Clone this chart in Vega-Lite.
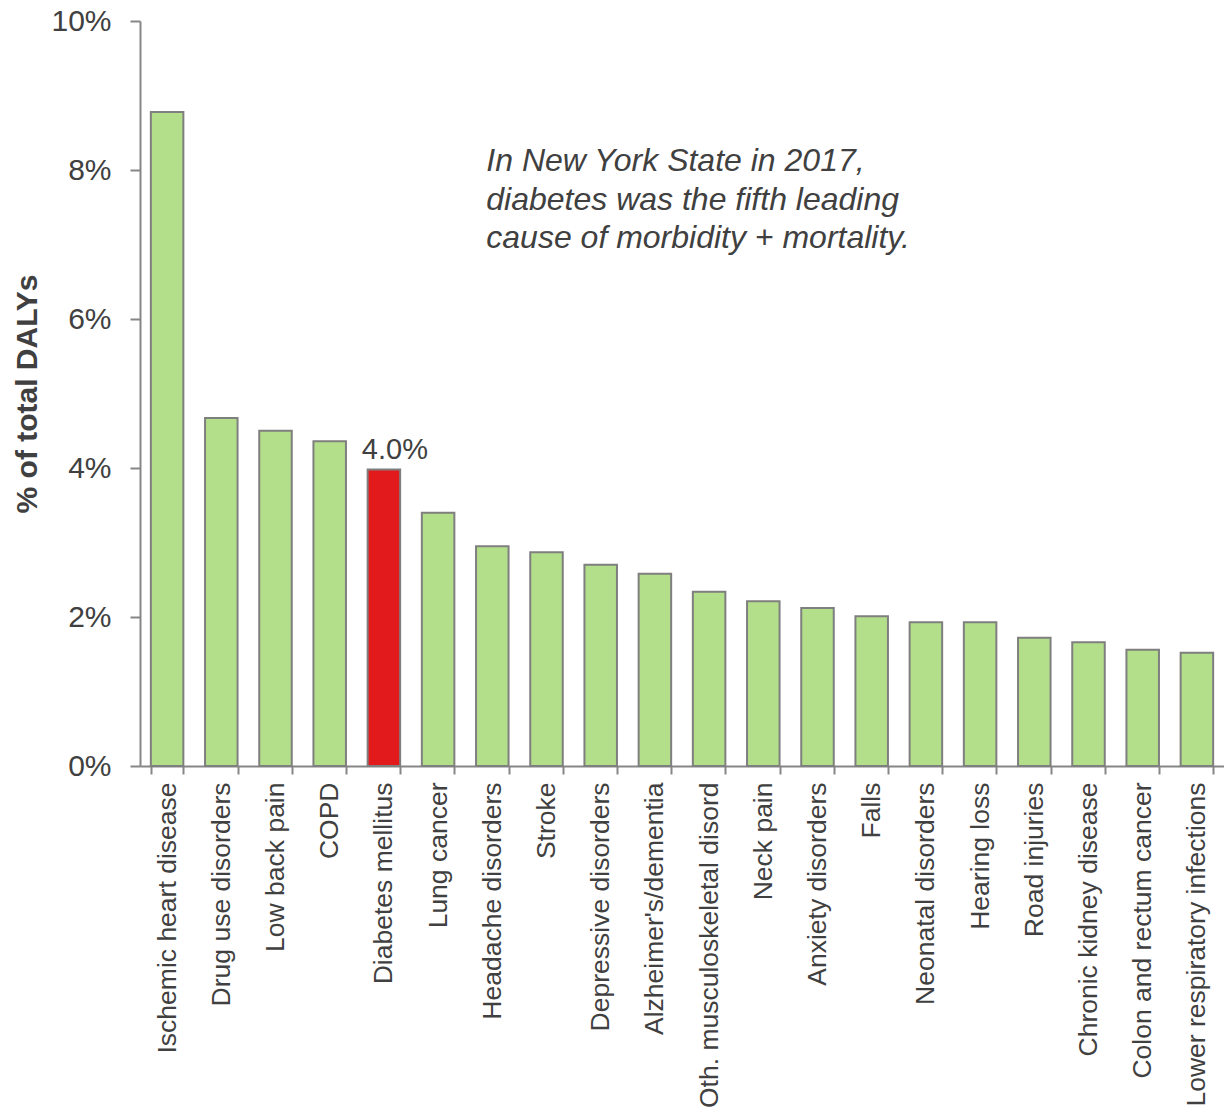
{
  "$schema": "https://vega.github.io/schema/vega-lite/v6.json",
  "autosize": "none",
  "padding": {"left": 140, "top": 21, "right": 0, "bottom": 345},
  "width": 1084,
  "height": 745,
  "background": "white",
  "config": {"view": {"stroke": null}, "font": "Liberation Sans"},
  "datasets": {
    "bars": [
      {"cause": "Ischemic heart disease", "pct": 8.78, "hl": "no"},
      {"cause": "Drug use disorders", "pct": 4.67, "hl": "no"},
      {"cause": "Low back pain", "pct": 4.50, "hl": "no"},
      {"cause": "COPD", "pct": 4.36, "hl": "no"},
      {"cause": "Diabetes mellitus", "pct": 3.98, "hl": "yes", "label": "4.0%"},
      {"cause": "Lung cancer", "pct": 3.40, "hl": "no"},
      {"cause": "Headache disorders", "pct": 2.95, "hl": "no"},
      {"cause": "Stroke", "pct": 2.87, "hl": "no"},
      {"cause": "Depressive disorders", "pct": 2.70, "hl": "no"},
      {"cause": "Alzheimer's/dementia", "pct": 2.58, "hl": "no"},
      {"cause": "Oth. musculoskeletal disord", "pct": 2.34, "hl": "no"},
      {"cause": "Neck pain", "pct": 2.21, "hl": "no"},
      {"cause": "Anxiety disorders", "pct": 2.12, "hl": "no"},
      {"cause": "Falls", "pct": 2.01, "hl": "no"},
      {"cause": "Neonatal disorders", "pct": 1.93, "hl": "no"},
      {"cause": "Hearing loss", "pct": 1.93, "hl": "no"},
      {"cause": "Road injuries", "pct": 1.72, "hl": "no"},
      {"cause": "Chronic kidney disease", "pct": 1.66, "hl": "no"},
      {"cause": "Colon and rectum cancer", "pct": 1.56, "hl": "no"},
      {"cause": "Lower respiratory infections", "pct": 1.52, "hl": "no"}
    ],
    "note": [
      {"cause": "Headache disorders", "pct": 7.98, "line": "In New York State in 2017,"},
      {"cause": "Headache disorders", "pct": 7.465, "line": "diabetes was the fifth leading"},
      {"cause": "Headache disorders", "pct": 6.95, "line": "cause of morbidity + mortality."}
    ]
  },
  "layer": [
    {
      "data": {"name": "bars"},
      "mark": {"type": "bar", "stroke": "#7f7f7f", "strokeWidth": 2},
      "encoding": {
        "x": {
          "field": "cause", "type": "nominal", "sort": null,
          "scale": {"paddingInner": 0.4, "paddingOuter": 0.2},
          "axis": {
            "title": null, "labelAngle": -90, "labelFontSize": 26.5, "labelColor": "#404040",
            "labelPadding": 8, "tickSize": 8, "tickBand": "extent", "domainColor": "#868686",
            "tickColor": "#868686", "domainWidth": 2, "tickWidth": 2, "labelLimit": 400
          }
        },
        "y": {
          "field": "pct", "type": "quantitative",
          "scale": {"domain": [0, 10], "nice": false},
          "axis": {
            "title": "% of total DALYs", "titleFontSize": 30, "titleFontWeight": "bold",
            "titleColor": "#404040", "titlePadding": 8,
            "values": [0, 2, 4, 6, 8, 10], "labelExpr": "datum.value + '%'",
            "labelFontSize": 30, "labelColor": "#404040", "labelPadding": 19,
            "tickSize": 10, "grid": false, "domainColor": "#868686", "tickColor": "#868686",
            "domainWidth": 2, "tickWidth": 2
          }
        },
        "color": {
          "field": "hl", "type": "nominal", "legend": null,
          "scale": {"domain": ["no", "yes"], "range": ["#b3df8a", "#e31a1c"]}
        }
      }
    },
    {
      "data": {"name": "bars"},
      "transform": [{"filter": "datum.label != null"}],
      "mark": {"type": "text", "fontSize": 29, "color": "#404040", "dx": 11, "dy": -10, "baseline": "alphabetic"},
      "encoding": {
        "x": {"field": "cause", "type": "nominal", "sort": null},
        "y": {"field": "pct", "type": "quantitative"},
        "text": {"field": "label"}
      }
    },
    {
      "data": {"name": "note"},
      "mark": {"type": "text", "fontSize": 32, "fontStyle": "italic", "color": "#404040",
        "align": "left", "baseline": "alphabetic", "xOffset": -6},
      "encoding": {
        "x": {"field": "cause", "type": "nominal", "sort": null},
        "y": {"field": "pct", "type": "quantitative"},
        "text": {"field": "line"}
      }
    }
  ]
}
